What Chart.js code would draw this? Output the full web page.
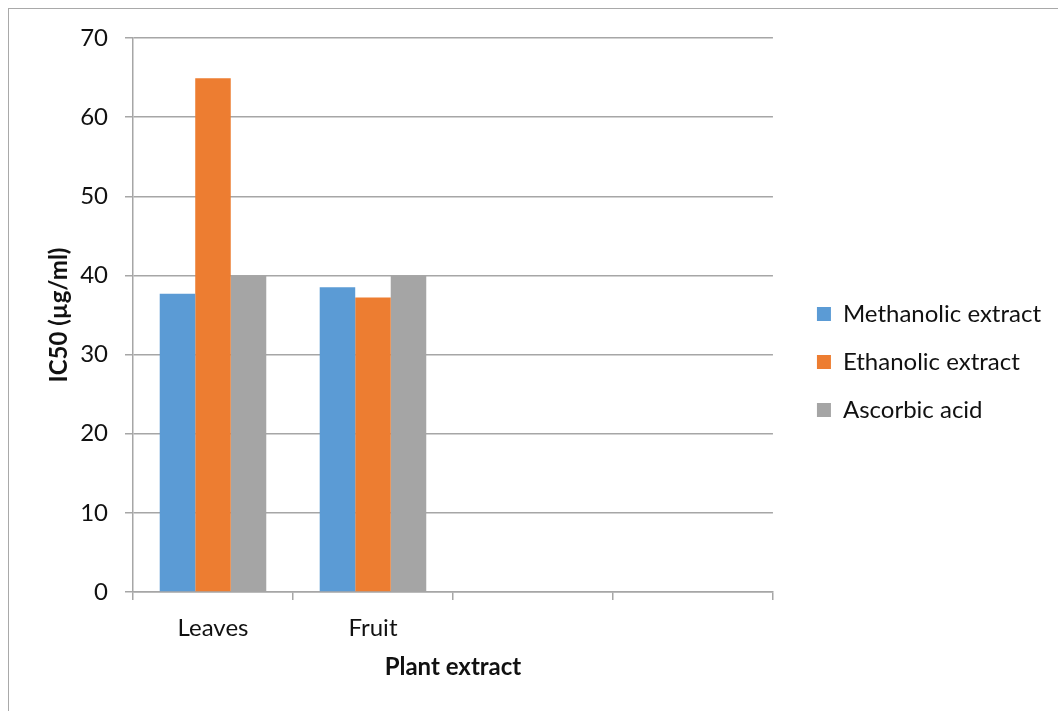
<!DOCTYPE html>
<html>
<head>
<meta charset="utf-8">
<script src="https://cdn.jsdelivr.net/npm/chart.js@4/dist/chart.umd.min.js"></script>
<style>
  html, body { margin: 0; padding: 0; background: #ffffff; overflow: hidden; }
  #wrap { position: absolute; left: 0; top: 0; width: 1058px; height: 711px; }
  #frame { position: absolute; left: 8px; top: 8px; width: 1200px; height: 900px;
           border-left: 1px solid #a9a9a9; border-top: 1px solid #a9a9a9; pointer-events: none; }
  canvas { position: absolute; left: 0; top: 0; }
</style>
</head>
<body>
<div id="wrap">
  <canvas id="chart" width="1058" height="711"></canvas>
  <div id="frame"></div>
</div>
<script>
// Plant parts on the category axis (two spare slots keep the empty columns)
const categories = ['Leaves', 'Fruit', '', ''];

// IC50 values in µg/ml
const methanolic = [37.7, 38.5, null, null];
const ethanolic  = [64.9, 37.2, null, null];
const ascorbic   = [40, 40, null, null];

const seriesNames = ['Methanolic extract', 'Ethanolic extract', 'Ascorbic acid'];
const yTicks = [0, 10, 20, 30, 40, 50, 60, 70];

const FONT = 'Lato, "Open Sans", sans-serif';
const SIZE = 24;
const TEXT = '#111111';
const GRID = '#a6a6a6';

new Chart(document.getElementById('chart'), {
  type: 'bar',
  data: {
    labels: categories,
    datasets: [
      { label: seriesNames[0], data: methanolic, backgroundColor: '#5b9bd5' },
      { label: seriesNames[1], data: ethanolic,  backgroundColor: '#ed7d31' },
      { label: seriesNames[2], data: ascorbic,   backgroundColor: '#a5a5a5' }
    ]
  },
  options: {
    responsive: false,
    animation: false,
    devicePixelRatio: 1,
    layout: { padding: { left: 0, top: 38, right: 7, bottom: 25 } },
    datasets: { bar: { categoryPercentage: 0.666, barPercentage: 1.0, borderWidth: 0 } },
    plugins: {
      tooltip: { enabled: false },
      legend: {
        position: 'right',
        align: 'center',
        labels: {
          boxWidth: 14,
          boxHeight: 14,
          padding: 24,
          color: TEXT,
          font: { family: FONT, size: SIZE }
        }
      }
    },
    scales: {
      x: {
        position: 'bottom',
        afterFit: s => { s.height = 94; },
        grid: { display: true, drawOnChartArea: false, drawTicks: true, tickLength: 8,
                offset: true, color: GRID, lineWidth: 1.5 },
        border: { display: true, color: GRID, width: 1.5 },
        ticks: { color: TEXT, padding: 14, font: { family: FONT, size: SIZE }, maxRotation: 0 },
        title: { display: true, text: 'Plant extract', color: TEXT,
                 font: { family: FONT, size: SIZE, weight: 'bold' }, padding: { top: 0, bottom: 4 } }
      },
      y: {
        min: 0,
        max: 70,
        afterFit: s => { s.width = 133; },
        afterBuildTicks: s => { s.ticks = yTicks.map(v => ({ value: v })); },
        grid: { color: GRID, lineWidth: 1.5, tickLength: 8, drawTicks: true },
        border: { display: true, color: GRID, width: 1.5 },
        ticks: { color: TEXT, padding: 17, font: { family: FONT, size: SIZE } },
        title: { display: true, text: 'IC50 (µg/ml)', color: TEXT,
                 font: { family: FONT, size: SIZE, weight: 'bold' }, padding: { top: 45, bottom: 0 } }
      },
      // hidden strip between the plot and the legend
      gap: {
        type: 'linear',
        position: 'right',
        display: false,
        afterFit: s => { s.width = 20; }
      }
    }
  }
});
</script>
</body>
</html>
